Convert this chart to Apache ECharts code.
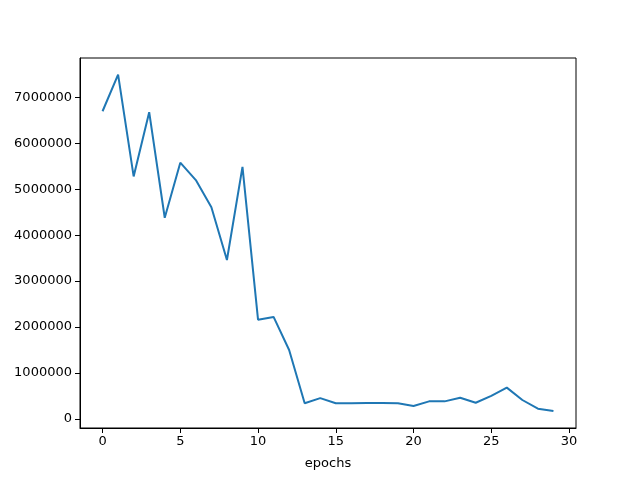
<!DOCTYPE html>
<html>
<head>
<meta charset="utf-8">
<script src="https://cdn.jsdelivr.net/npm/echarts@6/dist/echarts.min.js"></script>
<style>
  html, body { margin: 0; padding: 0; background: #fff; }
  #chart { width: 640px; height: 480px; }
</style>
</head>
<body>
<div id="chart"></div>
<script>
  const epochs = [0, 1, 2, 3, 4, 5, 6, 7, 8, 9, 10, 11, 12, 13, 14, 15, 16, 17, 18, 19, 20, 21, 22, 23, 24, 25, 26, 27, 28, 29];
  const loss = [6700000, 7500000, 5280000, 6680000, 4380000, 5580000, 5200000, 4610000, 3460000, 5490000,
    2160000, 2220000, 1500000, 340000, 450000, 340000, 340000, 345000, 345000, 340000,
    280000, 380000, 380000, 460000, 350000, 500000, 680000, 410000, 220000, 170000];
  const xTicks = [0, 5, 10, 15, 20, 25, 30];
  const yTicks = [0, 1000000, 2000000, 3000000, 4000000, 5000000, 6000000, 7000000];

  const labelFont = { color: '#000', fontSize: 13, fontFamily: 'DejaVu Sans' };

  const option = {
    animation: false,
    grid: {
      left: 80, right: 64, top: 58, bottom: 52,
      show: true, borderColor: '#000', borderWidth: 1, backgroundColor: 'transparent'
    },
    xAxis: {
      type: 'value',
      min: -1.45,
      max: 30.45,
      name: 'epochs',
      nameLocation: 'middle',
      nameGap: 29,
      nameTextStyle: labelFont,
      axisLine: { show: true, onZero: false, lineStyle: { color: '#000', width: 1 } },
      splitLine: { show: false },
      axisTick: { show: true, length: 5, customValues: xTicks, lineStyle: { color: '#000' } },
      axisLabel: Object.assign({ margin: 7, customValues: xTicks, formatter: (v) => String(v) }, labelFont)
    },
    yAxis: {
      type: 'value',
      min: -200000,
      max: 7860000,
      axisLine: { show: true, onZero: false, lineStyle: { color: '#000', width: 1 } },
      splitLine: { show: false },
      axisTick: { show: true, length: 5, customValues: yTicks, lineStyle: { color: '#000' } },
      axisLabel: Object.assign({ margin: 8, customValues: yTicks, formatter: (v) => String(v) }, labelFont)
    },
    series: [
      {
        type: 'line',
        data: epochs.map((e, i) => [e, loss[i]]),
        showSymbol: false,
        lineStyle: { color: '#1f77b4', width: 2 },
        itemStyle: { color: '#1f77b4' }
      }
    ]
  };

  const myChart = echarts.init(document.getElementById('chart'));
  myChart.setOption(option);
</script>
</body>
</html>
